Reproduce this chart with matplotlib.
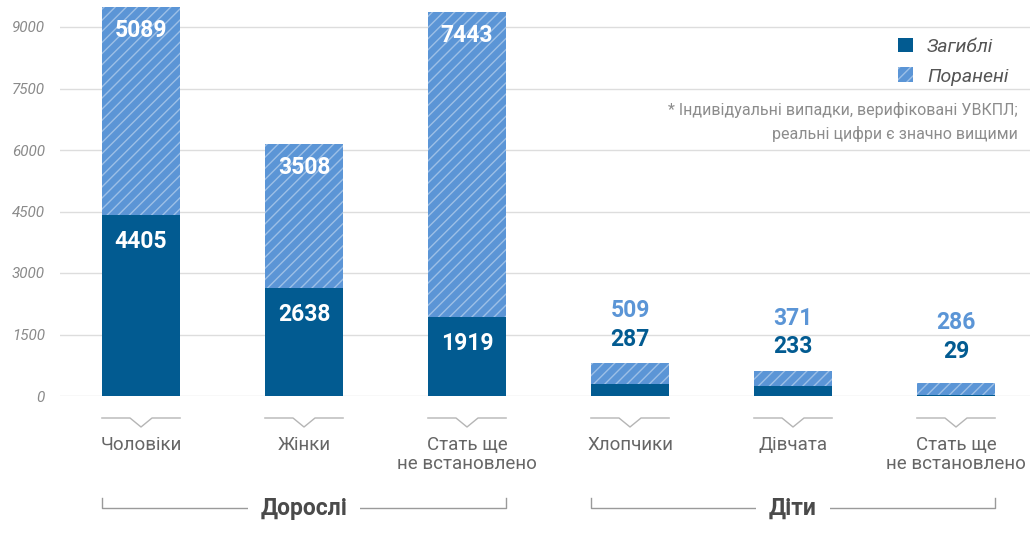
import matplotlib
matplotlib.use('Agg')
import matplotlib.pyplot as plt
from matplotlib.patches import Patch
from matplotlib import font_manager, transforms

categories = ['Чоловіки', 'Жінки', 'Стать ще\nне встановлено',
              'Хлопчики', 'Дівчата', 'Стать ще\nне встановлено']
groups = ['Дорослі', 'Діти']
group_members = [[0, 1, 2], [3, 4, 5]]
killed = [4405, 2638, 1919, 287, 233, 29]
injured = [5089, 3508, 7443, 509, 371, 286]
inside_labels = [True, True, True, False, False, False]
yticks = [0, 1500, 3000, 4500, 6000, 7500, 9000]
legend_labels = ['Загиблі', 'Поранені']
note = '* Індивідуальні випадки, верифіковані УВКПЛ;\nреальні цифри є значно вищими'

names = {f.name for f in font_manager.fontManager.ttflist}
base = 'Liberation Sans Narrow' if 'Liberation Sans Narrow' in names else 'Roboto'
plt.rcParams['font.family'] = [base, 'DejaVu Sans']

DARK = '#025b91'
LIGHT = '#5b95d6'
W, H = 1030, 533

fig = plt.figure(figsize=(W / 100, H / 100), dpi=100)
ax = fig.add_axes([60 / W, (H - 396) / H, (W - 60) / W, 396 / H])
ymax = 396 * 9000 / 369
ax.set_ylim(0, ymax)
ax.set_xlim(-0.497, 5.454)

x = list(range(len(categories)))
bw = 0.48
ax.bar(x, killed, width=bw, color=DARK, linewidth=0, zorder=2)
ax.bar(x, injured, bottom=killed, width=bw, color=LIGHT, hatch='///',
       edgecolor=(1, 1, 1, 0.4), linewidth=0, zorder=2)

ax.set_yticks(yticks)
ax.set_yticklabels([str(v) for v in yticks], fontstyle='italic', color='#8a8a8a', fontsize=11)
ax.tick_params(axis='y', length=0, pad=11)
ax.tick_params(axis='x', length=0, labelbottom=False)
ax.yaxis.grid(True, color='#dddddd', linewidth=1, zorder=0)
ax.set_axisbelow(True)
for s in ax.spines.values():
    s.set_visible(False)

numfs = 16.5
for i in x:
    k, inj = killed[i], injured[i]
    tot = k + inj
    if inside_labels[i]:
        ax.annotate(str(k), (i, k), xytext=(0, -19), textcoords='offset points',
                    ha='center', va='center', color='white', fontsize=numfs, fontweight='bold', zorder=3)
        ax.annotate(str(inj), (i, tot), xytext=(0, -17), textcoords='offset points',
                    ha='center', va='center', color='white', fontsize=numfs, fontweight='bold', zorder=3)
    else:
        b = max(tot, 500)
        ax.annotate(str(k), (i, b), xytext=(0, 17.5), textcoords='offset points',
                    ha='center', va='center', color=DARK, fontsize=numfs, fontweight='bold', zorder=3)
        ax.annotate(str(inj), (i, b), xytext=(0, 38), textcoords='offset points',
                    ha='center', va='center', color=LIGHT, fontsize=numfs, fontweight='bold', zorder=3)

tr = transforms.blended_transform_factory(ax.transData, ax.transAxes)
def ay(p):
    return (396 - p) / 396

notch = 11 / 163
for i in x:
    ax.plot([i - bw / 2, i - notch, i, i + notch, i + bw / 2],
            [ay(418), ay(418), ay(427), ay(418), ay(418)],
            color='#b5b5b5', lw=1, transform=tr, clip_on=False)
    ax.text(i, ay(436), categories[i], transform=tr, ha='center', va='top',
            fontsize=13.5, color='#666666', linespacing=1.05)

for g, mem in zip(groups, group_members):
    x0 = min(mem) - bw / 2
    x1 = max(mem) + bw / 2
    ax.plot([x0, x0, x1, x1], [ay(498), ay(508), ay(508), ay(498)],
            color='#9a9a9a', lw=1, transform=tr, clip_on=False)
    ax.text((x0 + x1) / 2, ay(508), g, transform=tr, ha='center', va='center',
            fontsize=16.5, fontweight='bold', color='#4a4a4a',
            bbox=dict(facecolor='white', edgecolor='none', pad=9))

handles = [Patch(facecolor=DARK, linewidth=0),
           Patch(facecolor=LIGHT, hatch='///', edgecolor=(1, 1, 1, 0.4), linewidth=0)]
fig.legend(handles, legend_labels, loc='upper right', bbox_to_anchor=(1026 / W, 1 - 20 / H),
           frameon=False, handlelength=0.8, handleheight=0.8, handletextpad=0.7,
           labelspacing=0.6, prop=dict(style='italic', size=14, family=[base, 'DejaVu Sans']),
           labelcolor='#555555')

fig.text(1018 / W, 1 - 102 / H, note, ha='right', va='top', fontsize=11.5,
         color='#8c8c8c', linespacing=1.65)

fig.savefig('out.png', dpi=100)
